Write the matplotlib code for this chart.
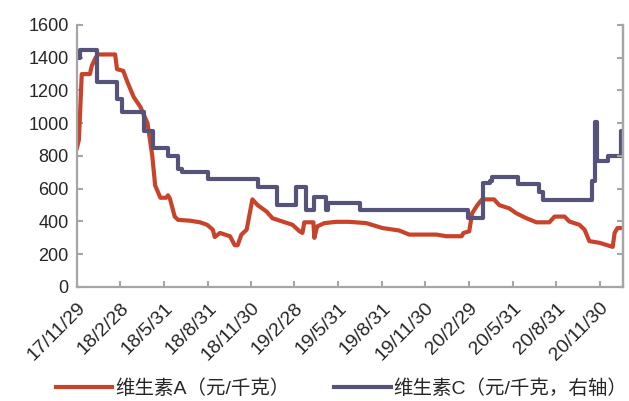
"""维生素A与维生素C价格走势图。"""

import matplotlib
matplotlib.use("Agg")
import matplotlib.pyplot as plt
import pandas as pd

plt.rcParams["font.family"] = ["Liberation Sans", "Noto Sans CJK SC", "DejaVu Sans"]

# 维生素A（元/千克）
va_dates = [
    "2017-11-29", "2017-12-03", "2017-12-09", "2017-12-26", "2017-12-30", "2018-01-07",
    "2018-01-12", "2018-02-17", "2018-02-21", "2018-03-06", "2018-03-15", "2018-03-28",
    "2018-04-11", "2018-04-26", "2018-05-01", "2018-05-06", "2018-05-12", "2018-05-23",
    "2018-06-04", "2018-06-08", "2018-06-12", "2018-06-22", "2018-06-29", "2018-07-24",
    "2018-08-14", "2018-08-29", "2018-09-10", "2018-09-14", "2018-09-25", "2018-10-16",
    "2018-10-26", "2018-11-01", "2018-11-09", "2018-11-20", "2018-12-02", "2018-12-13",
    "2019-01-01", "2019-01-13", "2019-02-03", "2019-02-24", "2019-03-11", "2019-03-17",
    "2019-03-21", "2019-04-09", "2019-04-11", "2019-04-17", "2019-05-02", "2019-05-27",
    "2019-06-23", "2019-07-29", "2019-09-01", "2019-10-06", "2019-10-27", "2019-12-23",
    "2020-01-13", "2020-02-14", "2020-02-18", "2020-03-01", "2020-03-07", "2020-03-18",
    "2020-03-28", "2020-04-22", "2020-05-03", "2020-05-24", "2020-06-08", "2020-06-29",
    "2020-07-20", "2020-08-16", "2020-08-27", "2020-09-17", "2020-09-27", "2020-10-18",
    "2020-10-29", "2020-11-08", "2020-11-29", "2020-12-27", "2020-12-31", "2021-01-06",
    "2021-01-17",
]
va_values = [
    850, 900, 1300, 1300, 1350, 1400,
    1420, 1420, 1330, 1320, 1250, 1160,
    1100, 1000, 900, 800, 620, 545,
    545, 560, 540, 430, 410, 405,
    395, 380, 350, 305, 330, 310,
    255, 255, 320, 350, 535, 500,
    460, 420, 400, 380, 340, 330,
    395, 395, 300, 370, 390, 398,
    398, 390, 360, 345, 320, 320,
    310, 310, 330, 340, 450, 500,
    535, 535, 500, 480, 450, 420,
    395, 395, 430, 430, 400, 380,
    350, 280, 270, 245, 330, 360,
    360,
]

# 维生素C（元/千克，右轴），阶梯变化点
vc_dates = [
    "2017-11-29", "2017-12-05", "2018-01-10", "2018-02-20", "2018-03-03", "2018-04-18",
    "2018-05-08", "2018-06-07", "2018-06-28", "2018-07-07", "2018-08-30", "2018-12-13",
    "2019-01-23", "2019-03-03", "2019-03-24", "2019-04-10", "2019-05-06", "2019-05-10",
    "2019-07-16", "2020-02-27", "2020-03-29", "2020-04-13", "2020-04-17", "2020-06-11",
    "2020-07-26", "2020-08-03", "2020-11-14", "2020-11-19", "2020-11-24", "2020-12-18",
    "2021-01-14", "2021-01-17",
]
vc_values = [
    1400, 1450, 1250, 1150, 1070, 950,
    850, 800, 720, 700, 660, 610,
    500, 610, 470, 550, 470, 510,
    470, 420, 635, 650, 670, 630,
    580, 530, 650, 1010, 770, 800,
    950, 950,
]

tick_labels = [
    "17/11/29", "18/2/28", "18/5/31", "18/8/31", "18/11/30", "19/2/28", "19/5/31",
    "19/8/31", "19/11/30", "20/2/29", "20/5/31", "20/8/31", "20/11/30",
]

RED = "#C8432A"
BLUE = "#56537A"
GREY = "#A6A6A6"

va_x = pd.to_datetime(va_dates)
vc_x = pd.to_datetime(vc_dates)
tick_x = pd.to_datetime(tick_labels, format="%y/%m/%d")

fig = plt.figure(figsize=(6.29, 4.01), dpi=100)
ax = fig.add_axes([0.1224, 0.2843, 0.8676, 0.6534])

ax.plot(va_x, va_values, color=RED, lw=3, label="维生素A（元/千克）")
ax.plot(vc_x, vc_values, color=BLUE, lw=3, drawstyle="steps-post",
        label="维生素C（元/千克，右轴）")

ax.set_xlim(va_x[0], va_x[-1])
ax.set_ylim(0, 1600)
ax.set_yticks(range(0, 1601, 200))
ax.set_xticks(tick_x)
ax.set_xticklabels(tick_labels, rotation=45, ha="right", rotation_mode="anchor")

ax.spines["top"].set_visible(False)
for side in ("left", "bottom", "right"):
    ax.spines[side].set_color(GREY)
    ax.spines[side].set_linewidth(1.6)

ax.tick_params(axis="both", direction="in", color=GREY, width=1.5, length=4,
               labelcolor="#262626")
ax.tick_params(axis="y", labelsize=13, pad=6)
ax.tick_params(axis="x", labelsize=14, pad=9)

ax2 = ax.twinx()
ax2.set_ylim(0, 1600)
ax2.set_yticks(range(0, 1601, 200))
ax2.set_yticklabels([])
ax2.tick_params(axis="y", direction="in", color=GREY, width=1.5, length=4)
for side in ("top", "left", "bottom"):
    ax2.spines[side].set_visible(False)
ax2.spines["right"].set_color(GREY)
ax2.spines["right"].set_linewidth(1.6)

handles, labels = ax.get_legend_handles_labels()
fig.legend(handles, labels, loc="center left", bbox_to_anchor=(0.089, 0.03), ncol=2,
           frameon=False, fontsize=14, handlelength=2.9, handletextpad=0.15,
           columnspacing=2.3, borderpad=0, borderaxespad=0, labelcolor="#262626")

fig.savefig("out.png", dpi=100)
